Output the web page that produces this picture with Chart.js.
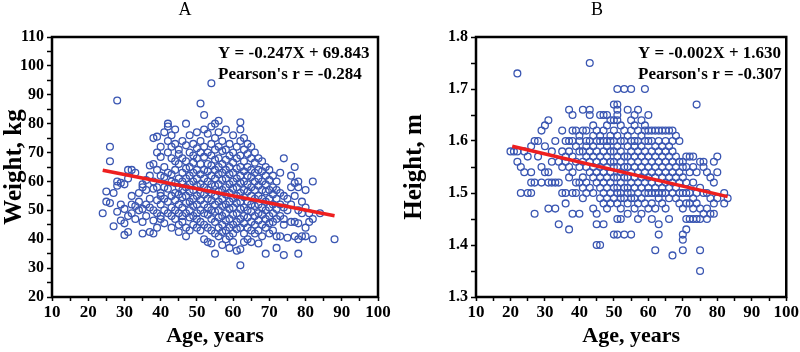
<!DOCTYPE html>
<html>
<head>
<meta charset="utf-8">
<script src="https://cdn.jsdelivr.net/npm/chart.js@4.4.0/dist/chart.umd.min.js"></script>
<style>
  body { margin: 0; background: #fff; }
  canvas { position: absolute; top: 0; }
</style>
</head>
<body>
<canvas id="chartA" width="400" height="352" style="left:0"></canvas>
<canvas id="chartB" width="400" height="352" style="left:400px"></canvas>
<script>
// Panel A: weight (kg), grouped by age
const weightRowsA = [
    [24, [49]], [25, [56.5, 53]], [26, [72, 67, 52.5]], [27, [56, 44.5]],
    [28, [88, 60, 58.5, 49.5]], [29, [59.5, 52, 46.5]], [30, [59, 50.5, 45.5, 41.5]],
    [31, [61, 64, 48, 42.5]], [32, [64, 55, 52, 49]], [33, [63, 51.5, 47]],
    [34, [56, 53, 50]], [35, [59, 58, 50.5, 46, 42]], [36, [60.5, 52, 48, 57]],
    [37, [62, 54, 51, 65.5, 42.5]], [38, [75, 66, 60, 57.5, 50, 46.5, 42]],
    [39, [75.5, 70, 64, 58, 53.5, 49, 44]], [40, [72, 68.5, 62, 56, 55, 52, 48, 47]],
    [41, [77, 65, 61.5, 58, 54, 50, 45.5]], [42, [80, 79, 74, 70, 63, 57.5, 53, 49]],
    [43, [76, 72, 68, 62.5, 60, 55, 51, 48, 44]], [44, [78, 73, 67, 64, 59.5, 56, 53.5, 50, 47]],
    [45, [71, 69.5, 66, 61, 58, 55.5, 52, 49, 45, 42.5]], [46, [74, 68, 63, 60, 57, 54.5, 51, 48, 46]],
    [47, [80, 72.5, 67, 64.5, 61, 58, 55, 52.5, 49, 44, 41]],
    [48, [76, 70, 65, 62, 59, 56.5, 53, 50, 47.5, 43]],
    [49, [73, 69, 66.5, 63, 60, 57, 54, 51.5, 48, 45]],
    [50, [77, 71.5, 68, 64, 61, 58.5, 55, 52, 49, 47, 44]],
    [51, [87, 74, 70, 66, 62.5, 59, 56, 53.5, 50, 46, 43]],
    [52, [83, 78, 72, 68.5, 64, 61, 58, 55.5, 52, 49, 45, 40]],
    [53, [76.5, 70, 66, 63.5, 60, 57, 54, 51, 48.5, 44, 39]],
    [54, [94, 79, 73, 69, 65.5, 62, 59, 56, 53.5, 50, 47, 43, 38.5]],
    [55, [80, 75, 71, 67.5, 64, 61, 58.5, 55, 52, 49.5, 46, 42, 35]],
    [56, [81, 77, 72, 68, 65, 62.5, 59, 56.5, 53, 50, 47.5, 44, 41]],
    [57, [74, 70.5, 66, 63, 60.5, 57, 54, 51.5, 48, 45, 42.5, 38]],
    [58, [78, 71, 67.5, 64, 61, 58, 55.5, 52, 49, 46.5, 43, 40]],
    [59, [73, 69, 65, 62.5, 59, 56, 53, 50.5, 47, 44, 41, 37]],
    [60, [76, 70, 66.5, 63, 60, 57.5, 54, 51, 48.5, 45, 42, 39]],
    [61, [72, 68, 64.5, 61, 58, 55, 52.5, 49, 46, 43.5, 36]],
    [62, [80.5, 78, 74, 69, 65, 62, 59.5, 56, 53, 50.5, 47, 44, 36.5, 31]],
    [63, [75, 71, 67, 63.5, 60, 57, 54.5, 51, 48, 45.5, 42, 39]],
    [64, [73, 69.5, 65, 62, 59, 56.5, 53, 50, 47.5, 44, 40]],
    [65, [72, 68, 64, 61.5, 58, 55, 52, 49.5, 46, 43, 39]],
    [66, [70, 66.5, 63, 60, 57, 54, 51.5, 48, 45, 42]],
    [67, [68, 64, 61, 58.5, 55, 52, 49, 46.5, 43, 38.5]],
    [68, [67, 63.5, 60, 57, 54, 51, 48.5, 45, 41]],
    [69, [65, 62, 59, 56.5, 53, 50, 47, 44, 35]],
    [70, [64, 60.5, 57, 54, 51, 48, 45.5, 42]],
    [71, [62, 58, 55.5, 52, 49, 46, 43]], [72, [60, 57, 54, 50.5, 47, 41, 37]],
    [73, [63, 56, 52, 48, 41]], [74, [68, 55, 51, 47, 45, 34.5]], [75, [54, 50, 40.5]],
    [76, [62, 58, 52, 46]], [77, [65, 59.5, 55, 46, 41]], [78, [60, 58, 50, 45.5, 40, 35]],
    [79, [53, 49, 41]], [80, [57, 51, 44, 41]], [81, [49, 46]], [82, [60, 47, 40]],
    [84, [49]], [88, [40]]
];
const fitAgeA = [24, 88];
const fitWeightA = [63.9, 48.1];

// Panel B: height (m), grouped by age
const heightRowsB = [
    [20, [1.58]], [21, [1.58]], [22, [1.73, 1.58, 1.56]], [23, [1.55, 1.50]],
    [24, [1.58, 1.54]], [25, [1.57, 1.50]], [26, [1.59, 1.54, 1.52, 1.50]],
    [27, [1.60, 1.52, 1.46]], [28, [1.60, 1.57]], [29, [1.62, 1.55, 1.52]],
    [30, [1.63, 1.59, 1.54]], [31, [1.64, 1.54, 1.52, 1.47]], [32, [1.58, 1.56, 1.52]],
    [33, [1.60, 1.52, 1.47]], [34, [1.56, 1.52, 1.44]], [35, [1.62, 1.58, 1.55, 1.50]],
    [36, [1.60, 1.57, 1.56, 1.50, 1.48]], [37, [1.66, 1.60, 1.58, 1.55, 1.53, 1.43]],
    [38, [1.65, 1.62, 1.60, 1.57, 1.54, 1.50, 1.46]], [39, [1.62, 1.59, 1.56, 1.52, 1.50]],
    [40, [1.61, 1.60, 1.58, 1.55, 1.52, 1.46]],
    [41, [1.66, 1.62, 1.58, 1.56, 1.53, 1.51, 1.49]],
    [42, [1.62, 1.60, 1.59, 1.57, 1.55, 1.52, 1.50]],
    [43, [1.75, 1.66, 1.65, 1.60, 1.58, 1.56, 1.54, 1.51]],
    [44, [1.63, 1.61, 1.59, 1.57, 1.55, 1.53, 1.50, 1.47]],
    [45, [1.62, 1.60, 1.58, 1.56, 1.54, 1.52, 1.46, 1.44, 1.40]],
    [46, [1.65, 1.61, 1.60, 1.57, 1.55, 1.53, 1.51, 1.49, 1.40]],
    [47, [1.65, 1.62, 1.60, 1.58, 1.56, 1.54, 1.52, 1.50, 1.48, 1.44]],
    [48, [1.65, 1.63, 1.60, 1.59, 1.57, 1.55, 1.53, 1.51, 1.49, 1.47]],
    [49, [1.64, 1.61, 1.60, 1.58, 1.56, 1.54, 1.52, 1.50, 1.48]],
    [50, [1.67, 1.64, 1.62, 1.60, 1.58, 1.56, 1.55, 1.53, 1.51, 1.49, 1.42]],
    [51, [1.70, 1.67, 1.66, 1.65, 1.64, 1.61, 1.59, 1.57, 1.55, 1.53, 1.51, 1.50, 1.48, 1.45, 1.42]],
    [52, [1.63, 1.60, 1.58, 1.56, 1.54, 1.52, 1.50, 1.49, 1.47, 1.45]],
    [53, [1.70, 1.62, 1.60, 1.57, 1.55, 1.53, 1.51, 1.49, 1.42]],
    [54, [1.66, 1.61, 1.59, 1.57, 1.55, 1.53, 1.51, 1.50, 1.48, 1.46]],
    [55, [1.70, 1.64, 1.62, 1.60, 1.58, 1.56, 1.54, 1.52, 1.50, 1.49, 1.42]],
    [56, [1.65, 1.63, 1.60, 1.59, 1.57, 1.55, 1.53, 1.51, 1.49, 1.47]],
    [57, [1.66, 1.62, 1.60, 1.58, 1.56, 1.54, 1.52, 1.50, 1.48, 1.45]],
    [58, [1.64, 1.61, 1.59, 1.57, 1.55, 1.53, 1.51, 1.49, 1.46]],
    [59, [1.70, 1.63, 1.62, 1.60, 1.58, 1.56, 1.54, 1.52, 1.50, 1.48]],
    [60, [1.65, 1.62, 1.60, 1.57, 1.55, 1.53, 1.51, 1.50, 1.47]],
    [61, [1.62, 1.60, 1.58, 1.56, 1.54, 1.52, 1.50, 1.48, 1.45]],
    [62, [1.62, 1.59, 1.57, 1.55, 1.53, 1.51, 1.50, 1.47, 1.39]],
    [63, [1.62, 1.60, 1.58, 1.56, 1.54, 1.52, 1.50, 1.49, 1.44, 1.42]],
    [64, [1.62, 1.59, 1.57, 1.55, 1.53, 1.51, 1.50, 1.48]],
    [65, [1.62, 1.60, 1.58, 1.56, 1.54, 1.52, 1.50, 1.47]],
    [66, [1.62, 1.59, 1.57, 1.55, 1.53, 1.51, 1.49, 1.45]],
    [67, [1.62, 1.60, 1.58, 1.56, 1.54, 1.52, 1.50, 1.38]],
    [68, [1.61, 1.57, 1.55, 1.53, 1.51, 1.49]],
    [69, [1.60, 1.56, 1.54, 1.52, 1.50, 1.48]],
    [70, [1.56, 1.55, 1.53, 1.50, 1.47, 1.42, 1.41, 1.39]],
    [71, [1.57, 1.55, 1.52, 1.50, 1.48, 1.45, 1.43]],
    [72, [1.57, 1.54, 1.50, 1.48, 1.45]], [73, [1.57, 1.55, 1.52, 1.49, 1.47, 1.45]],
    [74, [1.67, 1.54, 1.50, 1.48, 1.45]], [75, [1.56, 1.51, 1.47, 1.45, 1.39, 1.35]],
    [76, [1.56, 1.55, 1.50, 1.46]], [77, [1.54, 1.50, 1.47, 1.45]], [78, [1.53, 1.49, 1.46]],
    [79, [1.56, 1.52, 1.48, 1.46]], [80, [1.57, 1.54, 1.49]], [82, [1.50, 1.48]], [83, [1.49]]
];
const fitAgeB = [20.5, 83];
const fitHeightB = [1.59, 1.493];

const ageTicks = [10, 100];
const weightTicks = [20, 110];
const heightTicks = [1.3, 1.8];

const SERIF = '"Liberation Serif", "Times New Roman", serif';
const BLUE = '#3a56b2';
const RED = '#ee1f1f';

function toPoints(rows) {
    const pts = [];
    rows.forEach(([age, vals]) => vals.forEach(v => pts.push({ x: age, y: v })));
    return pts;
}

// frame, panel letter and fit text
function panelPlugin(letter, letterX, textX, lines) {
    return {
        id: 'panel' + letter,
        afterDraw(chart) {
            const { ctx, chartArea: a } = chart;
            ctx.save();
            ctx.strokeStyle = '#000';
            ctx.lineWidth = 2.5;
            ctx.strokeRect(a.left, a.top, a.right - a.left, a.bottom - a.top);
            ctx.fillStyle = '#000';
            ctx.textBaseline = 'middle';
            ctx.font = '18px ' + SERIF;
            ctx.textAlign = 'center';
            ctx.fillText(letter, letterX, 10);
            ctx.font = 'bold 17px ' + SERIF;
            ctx.textAlign = 'left';
            ctx.fillText(lines[0], textX, 54);
            ctx.fillText(lines[1], textX, 75);
            ctx.restore();
        }
    };
}

function makeChart(id, opts) {
    const ctx = document.getElementById(id).getContext('2d');
    return new Chart(ctx, {
        type: 'scatter',
        data: {
            datasets: [{
                type: 'line',
                data: opts.fitX.map((x, i) => ({ x: x, y: opts.fitY[i] })),
                borderColor: RED,
                borderWidth: 3.5,
                pointRadius: 0,
                order: 0
            }, {
                data: toPoints(opts.rows),
                pointRadius: 3.4,
                pointBorderWidth: 1.3,
                borderColor: BLUE,
                backgroundColor: 'rgba(0,0,0,0)',
                order: 1
            }]
        },
        options: {
            responsive: false,
            animation: false,
            devicePixelRatio: 1,
            layout: { padding: { left: 0, top: 37, right: opts.padRight, bottom: 0 } },
            plugins: { legend: { display: false }, tooltip: { enabled: false } },
            scales: {
                x: {
                    min: ageTicks[0], max: ageTicks[1],
                    afterFit: s => { s.height = 55; },
                    border: { display: false },
                    grid: { drawOnChartArea: false, color: '#000', tickLength: 4, tickWidth: 1.5 },
                    ticks: {
                        stepSize: 5, padding: 1, color: '#000', maxRotation: 0, autoSkip: false,
                        font: { family: SERIF, size: 17, weight: 'bold' },
                        callback: v => (v % 10 === 0 ? v : '')
                    },
                    title: {
                        display: true, text: 'Age, years', color: '#000',
                        font: { family: SERIF, size: 22, weight: 'bold' },
                        padding: { top: 0, bottom: 2 }
                    }
                },
                y: {
                    min: opts.yMin, max: opts.yMax,
                    afterFit: s => { s.width = opts.yWidth; },
                    border: { display: false },
                    grid: { drawOnChartArea: false, color: '#000', tickLength: 5, tickWidth: 1.5 },
                    ticks: {
                        stepSize: opts.yStep, padding: 3, color: '#000', autoSkip: false,
                        font: { family: SERIF, size: 16, weight: 'bold' },
                        callback: opts.yLabel
                    },
                    title: {
                        display: true, text: opts.yTitle, color: '#000',
                        font: { family: SERIF, size: 25, weight: 'bold' },
                        padding: { top: 0, bottom: 2 }
                    }
                }
            }
        },
        plugins: [panelPlugin(opts.letter, opts.letterX, opts.textX, opts.lines)]
    });
}

makeChart('chartA', {
    rows: weightRowsA, fitX: fitAgeA, fitY: fitWeightA,
    yMin: weightTicks[0], yMax: weightTicks[1], yStep: 5, yWidth: 52, padRight: 22,
    yLabel: v => (v % 10 === 0 ? v : ''),
    yTitle: 'Weight, kg', letter: 'A', letterX: 185, textX: 218,
    lines: ['Y = -0.247X + 69.843', "Pearson's r = -0.284"]
});

makeChart('chartB', {
    rows: heightRowsB, fitX: fitAgeB, fitY: fitHeightB,
    yMin: heightTicks[0], yMax: heightTicks[1], yStep: 0.05, yWidth: 76, padRight: 10,
    yLabel: v => (Math.abs(v * 10 - Math.round(v * 10)) < 1e-6 ? v.toFixed(1) : ''),
    yTitle: 'Height, m', letter: 'B', letterX: 197, textX: 238,
    lines: ['Y = -0.002X + 1.630', "Pearson's r = -0.307"]
});
</script>
</body>
</html>
